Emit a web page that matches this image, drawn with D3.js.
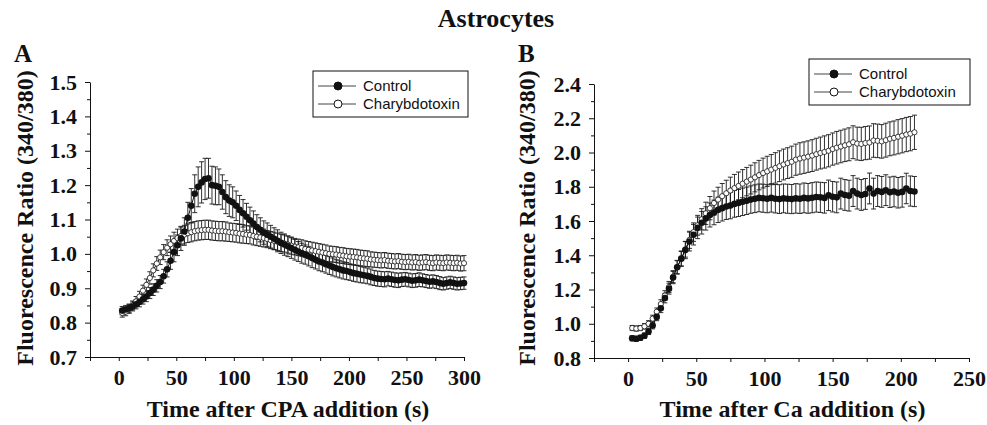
<!DOCTYPE html>
<html>
<head>
<meta charset="utf-8">
<script src="https://cdn.jsdelivr.net/npm/d3@7"></script>
<style>
  body { margin: 0; background: #fff; }
  svg { display: block; }
  .tick text { font-family: "Liberation Serif", "Times New Roman", serif; font-weight: bold; font-size: 22px; fill: #111; }
  .axis path, .axis line { stroke: #111; }
  .ttl { font-family: "Liberation Serif", "Times New Roman", serif; font-weight: bold; fill: #111; }
  .leg { font-family: "Liberation Sans", Arial, sans-serif; font-size: 15px; fill: #111; }
</style>
</head>
<body>
<div id="chart"></div>
<script>
// Sample times (s)
const timeA = [3,6,9,12,15,18,21,24,27,30,33,36,39,42,45,48,51,54,57,60,
  63,66,69,72,75,78,81,84,87,90,93,96,99,102,105,108,111,114,117,120,
  123,126,129,132,135,138,141,144,147,150,153,156,159,162,165,168,171,174,177,180,
  183,186,189,192,195,198,201,204,207,210,213,216,219,222,225,228,231,234,237,240,
  243,246,249,252,255,258,261,264,267,270,273,276,279,282,285,288,291,294,297,300];
const timeB = [3,6,9,12,15,18,21,24,27,30,33,36,39,42,45,48,51,54,57,60,
  63,66,69,72,75,78,81,84,87,90,93,96,99,102,105,108,111,114,117,120,
  123,126,129,132,135,138,141,144,147,150,153,156,159,162,165,168,171,174,177,180,
  183,186,189,192,195,198,201,204,207,210];

// Panel A: CPA addition
const controlA = [0.835,0.838,0.842,0.847,0.853,0.860,0.868,0.876,0.886,0.896,
  0.907,0.918,0.935,0.955,0.980,1.005,1.025,1.045,1.065,1.105,
  1.140,1.175,1.195,1.208,1.218,1.220,1.200,1.198,1.195,1.180,
  1.165,1.155,1.150,1.140,1.128,1.118,1.108,1.098,1.088,1.078,
  1.070,1.062,1.056,1.050,1.044,1.038,1.032,1.027,1.022,1.017,
  1.012,1.007,1.002,0.998,0.993,0.988,0.983,0.978,0.975,0.970,
  0.966,0.962,0.958,0.955,0.952,0.950,0.947,0.944,0.942,0.940,
  0.938,0.936,0.933,0.930,0.928,0.927,0.926,0.928,0.926,0.924,
  0.923,0.925,0.926,0.924,0.922,0.923,0.925,0.923,0.921,0.919,
  0.920,0.918,0.915,0.913,0.915,0.917,0.915,0.913,0.914,0.915];
const controlAErr = [0.012,0.012,0.012,0.013,0.013,0.014,0.014,0.015,0.016,0.017,
  0.018,0.019,0.020,0.022,0.025,0.028,0.030,0.035,0.040,0.045,
  0.050,0.055,0.058,0.060,0.060,0.058,0.055,0.055,0.052,0.050,
  0.048,0.046,0.045,0.043,0.042,0.040,0.039,0.038,0.037,0.036,
  0.035,0.034,0.034,0.033,0.032,0.032,0.031,0.031,0.030,0.030,
  0.030,0.029,0.029,0.028,0.028,0.028,0.027,0.027,0.027,0.026,
  0.026,0.026,0.025,0.025,0.025,0.025,0.024,0.024,0.024,0.024,
  0.023,0.023,0.023,0.022,0.022,0.022,0.022,0.021,0.021,0.021,
  0.021,0.020,0.020,0.020,0.020,0.020,0.020,0.019,0.019,0.019,
  0.019,0.019,0.019,0.018,0.018,0.018,0.018,0.018,0.018,0.018];
const charybA = [0.828,0.832,0.840,0.850,0.862,0.876,0.893,0.910,0.930,0.952,
  0.972,0.990,1.005,1.018,1.028,1.038,1.046,1.052,1.056,1.060,
  1.063,1.066,1.068,1.069,1.070,1.070,1.068,1.067,1.066,1.066,
  1.065,1.063,1.062,1.061,1.059,1.058,1.056,1.055,1.052,1.050,
  1.048,1.046,1.043,1.040,1.038,1.035,1.032,1.030,1.027,1.024,
  1.021,1.019,1.017,1.014,1.012,1.010,1.008,1.006,1.004,1.002,
  1.000,0.999,0.998,0.996,0.995,0.993,0.992,0.991,0.990,0.988,
  0.987,0.986,0.984,0.983,0.982,0.981,0.982,0.980,0.979,0.978,
  0.979,0.977,0.976,0.977,0.975,0.976,0.974,0.975,0.976,0.974,
  0.973,0.975,0.974,0.973,0.975,0.974,0.973,0.974,0.972,0.973];
const charybAErr = [0.012,0.012,0.013,0.013,0.014,0.015,0.016,0.017,0.018,0.019,
  0.020,0.021,0.022,0.023,0.024,0.025,0.026,0.026,0.027,0.027,
  0.028,0.028,0.028,0.028,0.028,0.028,0.028,0.028,0.028,0.028,
  0.028,0.027,0.027,0.027,0.027,0.027,0.026,0.026,0.026,0.026,
  0.026,0.026,0.025,0.025,0.025,0.025,0.025,0.025,0.025,0.025,
  0.024,0.024,0.024,0.024,0.024,0.024,0.024,0.024,0.024,0.024,
  0.023,0.023,0.023,0.023,0.023,0.023,0.023,0.023,0.023,0.023,
  0.023,0.023,0.022,0.022,0.022,0.022,0.022,0.022,0.022,0.022,
  0.022,0.022,0.022,0.022,0.022,0.022,0.022,0.022,0.022,0.022,
  0.022,0.022,0.022,0.022,0.022,0.022,0.022,0.022,0.022,0.022];

// Panel B: Ca addition
const controlB = [0.915,0.912,0.918,0.930,0.955,0.990,1.040,1.090,1.150,1.205,
  1.270,1.330,1.380,1.430,1.480,1.520,1.560,1.590,1.615,1.635,
  1.650,1.665,1.675,1.685,1.690,1.700,1.705,1.712,1.718,1.725,
  1.730,1.735,1.733,1.730,1.735,1.730,1.728,1.732,1.730,1.728,
  1.732,1.730,1.735,1.732,1.736,1.740,1.738,1.735,1.750,1.742,
  1.738,1.760,1.752,1.748,1.775,1.760,1.752,1.758,1.790,1.760,
  1.775,1.770,1.780,1.768,1.772,1.765,1.770,1.790,1.775,1.772];
const controlBErr = [0.015,0.015,0.015,0.016,0.018,0.020,0.022,0.025,0.028,0.032,
  0.036,0.040,0.045,0.050,0.055,0.060,0.063,0.066,0.068,0.070,
  0.072,0.074,0.075,0.076,0.077,0.078,0.079,0.080,0.080,0.080,
  0.081,0.081,0.082,0.082,0.083,0.083,0.084,0.084,0.085,0.085,
  0.086,0.086,0.087,0.087,0.088,0.088,0.088,0.089,0.089,0.089,
  0.090,0.090,0.090,0.090,0.090,0.090,0.090,0.090,0.090,0.090,
  0.090,0.090,0.090,0.089,0.089,0.089,0.089,0.089,0.088,0.088];
const charybB = [0.975,0.972,0.975,0.985,1.000,1.030,1.070,1.115,1.165,1.215,
  1.275,1.330,1.380,1.435,1.490,1.535,1.575,1.610,1.645,1.675,
  1.705,1.725,1.745,1.762,1.778,1.792,1.805,1.818,1.830,1.842,
  1.855,1.868,1.880,1.890,1.900,1.910,1.920,1.930,1.938,1.946,
  1.958,1.965,1.970,1.976,1.982,1.990,1.997,2.003,2.010,2.020,
  2.028,2.035,2.042,2.048,2.060,2.052,2.050,2.055,2.058,2.070,
  2.068,2.065,2.072,2.080,2.085,2.092,2.098,2.105,2.110,2.118];
const charybBErr = [0.015,0.015,0.015,0.016,0.018,0.020,0.022,0.025,0.028,0.032,
  0.035,0.038,0.042,0.046,0.050,0.054,0.058,0.062,0.065,0.068,
  0.070,0.072,0.074,0.076,0.078,0.080,0.081,0.082,0.083,0.084,
  0.085,0.086,0.087,0.088,0.088,0.089,0.090,0.090,0.090,0.091,
  0.091,0.092,0.092,0.092,0.093,0.093,0.093,0.094,0.094,0.094,
  0.095,0.095,0.095,0.096,0.096,0.096,0.097,0.097,0.097,0.098,
  0.098,0.098,0.099,0.099,0.099,0.100,0.100,0.100,0.100,0.100];

const seriesNames = ['Control', 'Charybdotoxin'];

const W = 987, H = 425;
const svg = d3.select('#chart').append('svg')
  .attr('width', W)
  .attr('height', H);

svg.append('text')
  .attr('class', 'ttl')
  .attr('x', 496)
  .attr('y', 27)
  .attr('text-anchor', 'middle')
  .style('font-size', '26px')
  .text('Astrocytes');

function zip(t, v, e) {
  return t.map((d, i) => ({t: d, v: v[i], e: e[i]}));
}

function drawPanel(p) {
  const x = d3.scaleLinear().domain(p.xDomain).range(p.xRange);
  const y = d3.scaleLinear().domain(p.yDomain).range(p.yRange);
  const g = svg.append('g');

  // panel letter
  g.append('text')
    .attr('class', 'ttl')
    .attr('x', p.letterX)
    .attr('y', 62)
    .style('font-size', '25px')
    .text(p.letter);

  // minor ticks
  const xAxisMinor = d3.axisBottom(x).tickValues(p.xMinor).tickSize(4).tickFormat('');
  g.append('g').attr('class', 'axis')
    .attr('transform', 'translate(0,' + p.yRange[0] + ')')
    .call(xAxisMinor)
    .call(s => s.select('.domain').remove());
  const yAxisMinor = d3.axisLeft(y).tickValues(p.yMinor).tickSize(3).tickFormat('');
  g.append('g').attr('class', 'axis')
    .attr('transform', 'translate(' + p.xRange[0] + ',0)')
    .call(yAxisMinor)
    .call(s => s.select('.domain').remove());

  // major axes
  const xAxis = d3.axisBottom(x).tickValues(p.xTicks).tickSize(4).tickPadding(8)
    .tickFormat(d3.format('d')).tickSizeOuter(0);
  g.append('g').attr('class', 'axis')
    .attr('transform', 'translate(0,' + p.yRange[0] + ')')
    .call(xAxis);
  const yAxis = d3.axisLeft(y).tickValues(p.yTicks).tickSize(5).tickPadding(8)
    .tickFormat(d3.format('.1f')).tickSizeOuter(0);
  g.append('g').attr('class', 'axis')
    .attr('transform', 'translate(' + p.xRange[0] + ',0)')
    .call(yAxis);

  // axis titles
  g.append('text')
    .attr('class', 'ttl')
    .attr('x', (p.xRange[0] + p.xRange[1]) / 2 + 11)
    .attr('y', 417)
    .attr('text-anchor', 'middle')
    .style('font-size', '24px')
    .text(p.xTitle);
  g.append('text')
    .attr('class', 'ttl')
    .attr('transform', 'translate(' + p.yTitleX + ',' + 218 + ') rotate(-90)')
    .attr('text-anchor', 'middle')
    .style('font-size', '24px')
    .text('Fluorescence Ratio (340/380)');

  const ctl = zip(p.time, p.control, p.controlErr);
  const chb = zip(p.time, p.charyb, p.charybErr);

  function errBars(data) {
    const eg = g.append('g').attr('stroke', '#1a1a1a').attr('stroke-width', 0.9);
    eg.selectAll('line.v').data(data).enter().append('line')
      .attr('x1', d => x(d.t)).attr('x2', d => x(d.t))
      .attr('y1', d => y(d.v - d.e)).attr('y2', d => y(d.v + d.e));
    eg.selectAll('line.top').data(data).enter().append('line')
      .attr('x1', d => x(d.t) - 2.5).attr('x2', d => x(d.t) + 2.5)
      .attr('y1', d => y(d.v + d.e)).attr('y2', d => y(d.v + d.e));
    eg.selectAll('line.bot').data(data).enter().append('line')
      .attr('x1', d => x(d.t) - 2.5).attr('x2', d => x(d.t) + 2.5)
      .attr('y1', d => y(d.v - d.e)).attr('y2', d => y(d.v - d.e));
  }
  errBars(chb);
  errBars(ctl);

  const line = d3.line().x(d => x(d.t)).y(d => y(d.v));
  g.append('path').datum(chb).attr('d', line)
    .attr('fill', 'none').attr('stroke', '#111').attr('stroke-width', 1);
  g.append('path').datum(ctl).attr('d', line)
    .attr('fill', 'none').attr('stroke', '#111').attr('stroke-width', 1);

  g.selectAll('circle.chb').data(chb).enter().append('circle')
    .attr('cx', d => x(d.t)).attr('cy', d => y(d.v)).attr('r', 2.6)
    .attr('fill', '#fff').attr('stroke', '#111').attr('stroke-width', 0.8);
  g.selectAll('circle.ctl').data(ctl).enter().append('circle')
    .attr('cx', d => x(d.t)).attr('cy', d => y(d.v)).attr('r', 3.3)
    .attr('fill', '#111');

  // legend
  const lg = g.append('g').attr('transform', 'translate(' + p.legX + ',' + p.legY + ')');
  lg.append('rect').attr('x', 0).attr('y', 0).attr('width', p.legW).attr('height', 46)
    .attr('fill', '#fff').attr('stroke', '#111').attr('stroke-width', 1);
  seriesNames.forEach((name, i) => {
    const cy = 15 + i * 18;
    lg.append('line').attr('x1', 5).attr('x2', 43).attr('y1', cy).attr('y2', cy)
      .attr('stroke', '#444').attr('stroke-width', 1);
    lg.append('circle').attr('cx', 25).attr('cy', cy).attr('r', 4)
      .attr('fill', i === 0 ? '#111' : '#fff').attr('stroke', '#111').attr('stroke-width', 1);
    lg.append('text').attr('class', 'leg').attr('x', 50).attr('y', cy + 5).text(name);
  });
}

drawPanel({
  letter: 'A', letterX: 14, yTitleX: 33,
  xDomain: [-25, 300], xRange: [90, 464],
  yDomain: [0.7, 1.5], yRange: [357, 82],
  xTicks: [0, 50, 100, 150, 200, 250, 300],
  xMinor: [-25, 25, 75, 125, 175, 225, 275],
  yTicks: [0.7, 0.8, 0.9, 1.0, 1.1, 1.2, 1.3, 1.4, 1.5],
  yMinor: [0.75, 0.85, 0.95, 1.05, 1.15, 1.25, 1.35, 1.45],
  xTitle: 'Time after CPA addition (s)',
  time: timeA, control: controlA, controlErr: controlAErr,
  charyb: charybA, charybErr: charybAErr,
  legX: 313, legY: 71, legW: 155
});

drawPanel({
  letter: 'B', letterX: 518, yTitleX: 535,
  xDomain: [-25, 250], xRange: [594, 969],
  yDomain: [0.8, 2.4], yRange: [358, 84],
  xTicks: [0, 50, 100, 150, 200, 250],
  xMinor: [-25, 25, 75, 125, 175, 225],
  yTicks: [0.8, 1.0, 1.2, 1.4, 1.6, 1.8, 2.0, 2.2, 2.4],
  yMinor: [0.9, 1.1, 1.3, 1.5, 1.7, 1.9, 2.1, 2.3],
  xTitle: 'Time after Ca addition (s)',
  time: timeB, control: controlB, controlErr: controlBErr,
  charyb: charybB, charybErr: charybBErr,
  legX: 809, legY: 59, legW: 161
});
</script>
</body>
</html>
